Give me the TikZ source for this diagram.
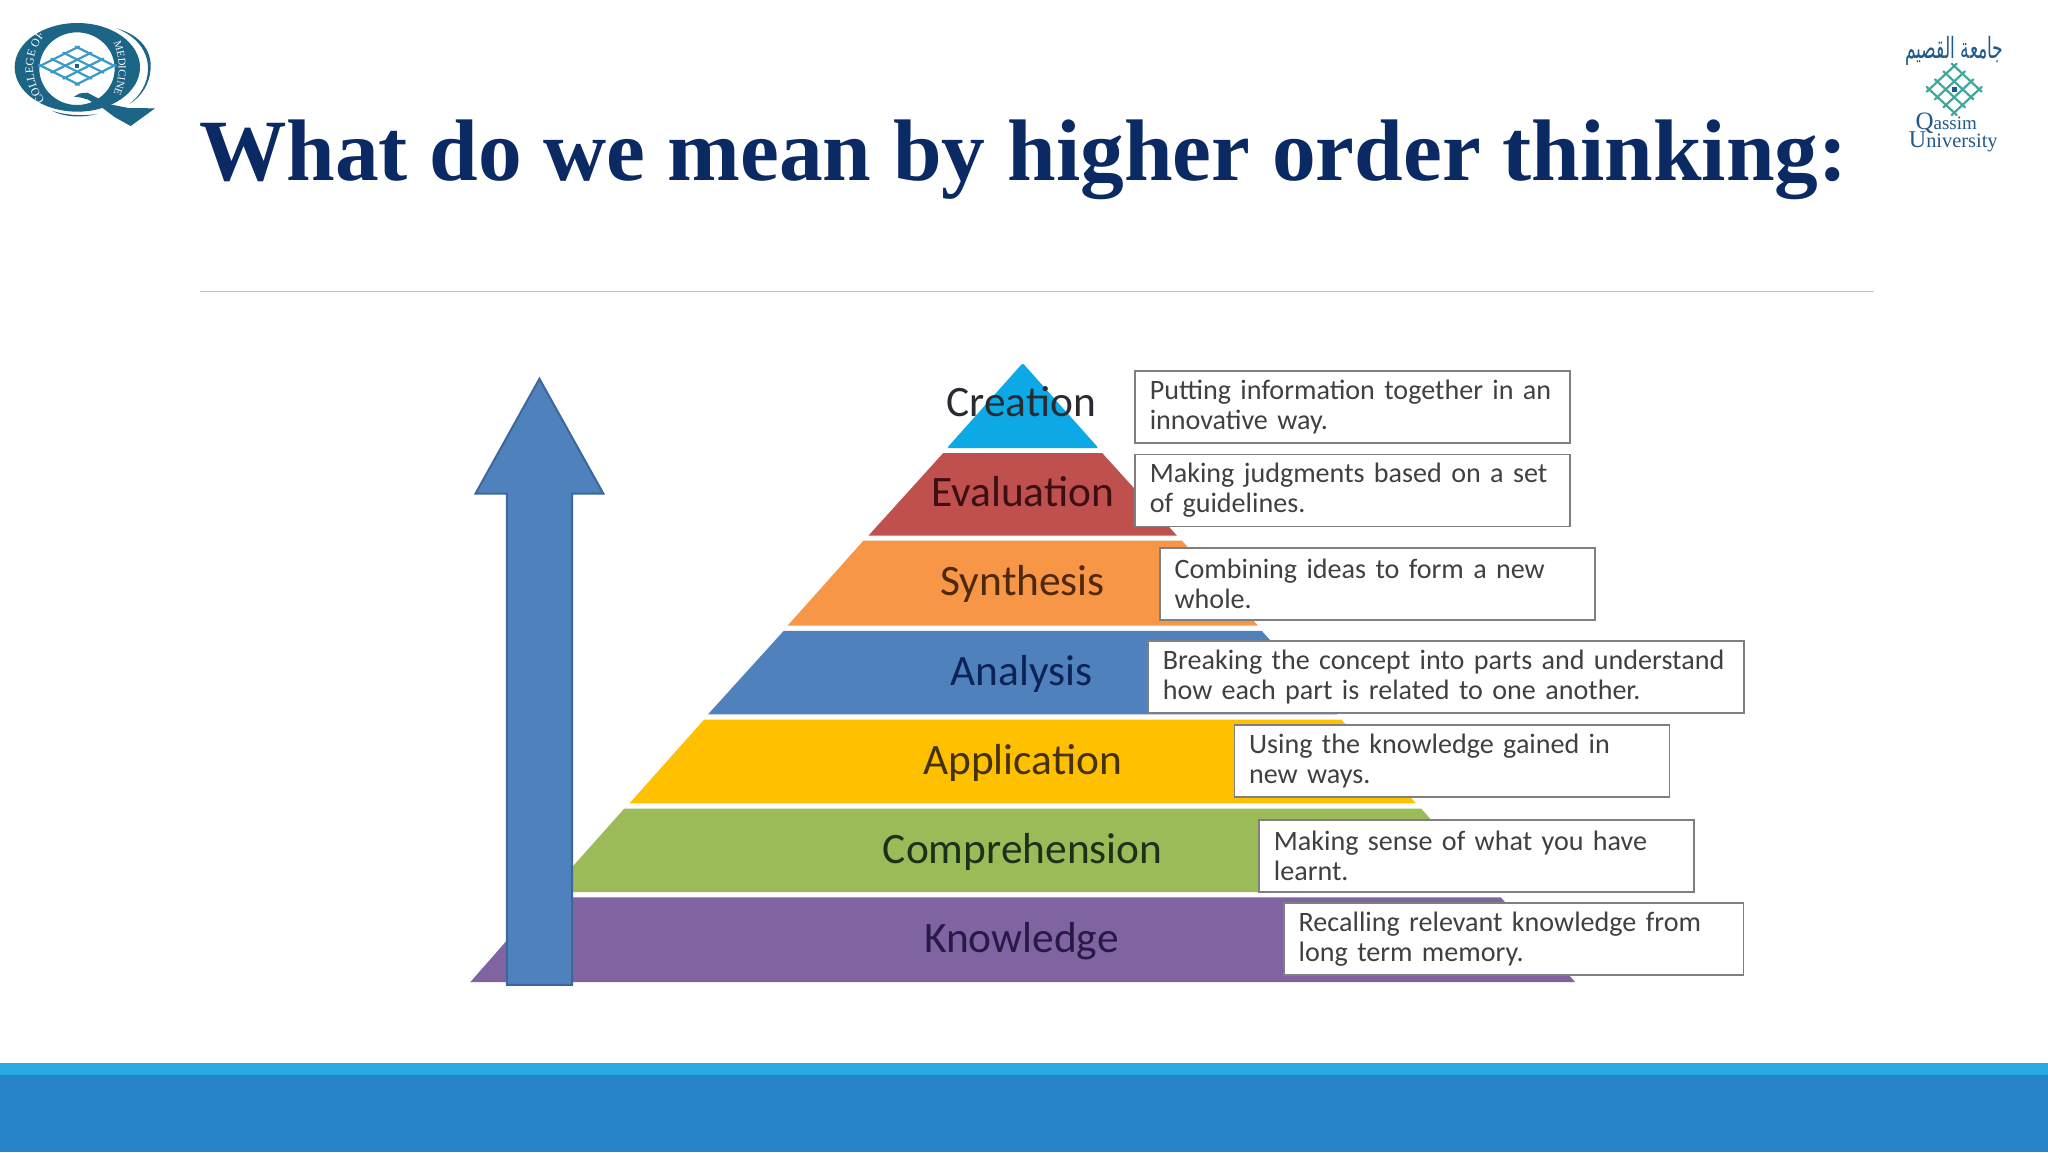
\documentclass[tikz,border=0pt]{standalone}
\usepackage{fontspec}
\usetikzlibrary{decorations.text}
\setmainfont{Liberation Serif}
\newfontfamily\calibrifont{Carlito}
\newfontfamily\serifbold{Liberation Serif}[BoldFont={Liberation Serif Bold}]
\newfontfamily\arabicfont[Script=Arabic]{DejaVu Sans}
\TeXXeTstate=1
\definecolor{navytitle}{HTML}{0B2A63}
\definecolor{rulegray}{HTML}{BFBFBF}
\definecolor{barlight}{HTML}{29ABE2}
\definecolor{bardark}{HTML}{2683C6}
\definecolor{boxedge}{HTML}{7F7F7F}
\definecolor{desctext}{HTML}{404040}
\definecolor{arrowfill}{HTML}{4F81BD}
\definecolor{arrowedge}{HTML}{3A679C}
\definecolor{logoq}{HTML}{1D6586}
\definecolor{logoblue}{HTML}{3C9AC8}
\definecolor{logogreen}{HTML}{3FA89B}
\definecolor{logonavy}{HTML}{1F5A8C}
\tikzset{
  layer/.style={draw=none},
  levellabel/.style={font=\calibrifont\fontsize{21.7}{25}\selectfont,anchor=base,inner sep=0pt},
  descbox/.style={draw=boxedge,line width=0.8pt,fill=white,inner xsep=7.3pt,inner ysep=0pt,
    minimum height=36pt,text width=#1,align=left,text=desctext,
    font=\calibrifont\fontsize{14.05}{15}\selectfont,anchor=west},
  logostroke/.style={line width=1.1pt,line cap=round}
}
\begin{document}
\begin{tikzpicture}[x=0.65306pt,y=-0.65306pt]
\useasboundingbox (0,0) rectangle (1568,882);
\fill[white] (0,0) rectangle (1568,882);
% bottom bars
\fill[bardark] (0,823) rectangle (1568,882);
\fill[barlight] (0,814) rectangle (1568,823);
% title and rule
\node[anchor=base,inner sep=0pt,text=navytitle,font=\serifbold\bfseries\fontsize{43.7}{52}\selectfont] (title) at (783.5,138.5) {What do we mean by higher order thinking:};
\coordinate (ruleL) at (153,223);
\coordinate (ruleR) at (1435,223);
\draw[rulegray,line width=0.7pt] (ruleL) -- (ruleR);
% pyramid
\fill[layer,fill={rgb,255:red,13;green,169;blue,230},rounded corners=1pt] (783,278) -- (841,343) -- (725,343) -- cycle;
\fill[layer,fill={rgb,255:red,192;green,80;blue,77}] (722,347) -- (844,347) -- (901,410) -- (665,410) -- cycle;
\fill[layer,fill={rgb,255:red,247;green,150;blue,70}] (661,414) -- (905,414) -- (963,479) -- (603,479) -- cycle;
\fill[layer,fill={rgb,255:red,79;green,129;blue,189}] (600,483) -- (966,483) -- (1024,547) -- (542,547) -- cycle;
\fill[layer,fill={rgb,255:red,255;green,192;blue,0}] (539,551) -- (1027,551) -- (1084,615) -- (482,615) -- cycle;
\fill[layer,fill={rgb,255:red,155;green,187;blue,89}] (478,619) -- (1088,619) -- (1145,683) -- (421,683) -- cycle;
\fill[layer,fill={rgb,255:red,128;green,100;blue,162}] (417,687) -- (1149,687) -- (1206,752) -- (360,752) -- cycle;
% labels
\node[levellabel,text={rgb,255:red,40;green,44;blue,50}] (creation) at (782,319) {Creation};
\node[levellabel,text={rgb,255:red,60;green,15;blue,20}] (evaluation) at (783,388) {Evaluation};
\node[levellabel,text={rgb,255:red,80;green,40;blue,10}] (synthesis) at (783,456) {Synthesis};
\node[levellabel,text={rgb,255:red,12;green,35;blue,85}] (analysis) at (782,525) {Analysis};
\node[levellabel,text={rgb,255:red,70;green,50;blue,10}] (application) at (783,593) {Application};
\node[levellabel,text={rgb,255:red,25;green,50;blue,25}] (comprehension) at (783,661) {Comprehension};
\node[levellabel,text={rgb,255:red,40;green,25;blue,70}] (knowledge) at (782,729) {Knowledge};
% boxes
\node[descbox=202.9pt] (b1) at (868.5,311.5) {\mbox{Putting information together in an}\\innovative way.};
\node[descbox=202.9pt] (b2) at (868.5,375.5) {Making judgments based on a set\\of guidelines.};
\node[descbox=202.9pt] (b3) at (887.5,447) {Combining ideas to form a new\\whole.};
\node[descbox=283.2pt] (b4) at (878.5,518.5) {\mbox{Breaking the concept into parts and understand}\\how each part is related to one another.};
\node[descbox=202.9pt] (b5) at (944.5,582.5) {Using the knowledge gained in\\new ways.};
\node[descbox=202.9pt] (b6) at (963.5,655.5) {Making sense of what you have\\learnt.};
\node[descbox=215.2pt] (b7) at (982.5,719) {Recalling relevant knowledge from\\long term memory.};
% big arrow
\draw[fill=arrowfill,draw=arrowedge,line width=1pt,line join=miter]
  (413,290) -- (462,378) -- (438,378) -- (438,754) -- (388,754) -- (388,378) -- (364,378) -- cycle;
% left logo (coordinates of 3x crop)
\begin{scope}[x=0.16667pt,y=-0.16667pt]
  \fill[logoq,even odd rule] (232,202) ellipse [x radius=188,y radius=133]
        (231,206) ellipse [x radius=113,y radius=109];
  \fill[logoq] (350,85) .. controls (420,105) and (455,150) .. (452,205)
     .. controls (450,250) and (425,290) .. (388,312)
     .. controls (422,285) and (444,250) .. (444,205)
     .. controls (444,155) and (412,110) .. (350,85) -- cycle;
  \fill[logoq] (155,332) .. controls (190,350) and (240,355) .. (292,342)
     .. controls (240,349) and (195,345) .. (155,332) -- cycle;
  \fill[logoq] (222,290) -- (240,280) -- (262,278) -- (285,290) -- (325,312) -- (385,324) -- (465,325)
     -- (392,378) -- (345,352) -- (305,322) -- (262,298) -- (240,292) -- cycle;
  \foreach \t in {-55,-18,18,55}{
    \draw[logoblue,logostroke] ({232+\t-60},{197-0.5*\t-30}) -- ({232+\t+60},{197-0.5*\t+30});
    \draw[logoblue,logostroke] ({232+\t-60},{197+0.5*\t+30}) -- ({232+\t+60},{197+0.5*\t-30});
  }
  \fill[logoq] (226,191) rectangle (238,203);
  \path[decorate,decoration={text along path,text align=center,
     text={|\color{white}\fontsize{5.8}{7}\selectfont|COLLEGE OF}}]
     (150,320) .. controls (83,250) and (83,150) .. (150,90);
  \path[decorate,decoration={text along path,text align=center,
     text={|\color{white}\fontsize{5.4}{7}\selectfont|MEDICINE}}]
     (320,95) .. controls (368,150) and (368,260) .. (320,315);
\end{scope}
% right logo
\begin{scope}[shift={(1424.2,7.66)},x=0.16667pt,y=-0.16667pt]
  \node[inner sep=0pt,text=logonavy,font=\arabicfont\fontsize{8.6}{11}\selectfont] (arname) at (282,122) {\scalebox{1}[1.7]{\beginR جامعة القصيم\endR}};
  \foreach \t in {-50,-17,17,50}{
    \draw[logogreen,logostroke] ({282+\t*0.75-45},{238-0.7*\t-42}) -- ({282+\t*0.75+45},{238-0.7*\t+42});
    \draw[logogreen,logostroke] ({282+\t*0.75-45},{238+0.7*\t+42}) -- ({282+\t*0.75+45},{238+0.7*\t-42});
  }
  \fill[logonavy] (275,231) rectangle (289,245);
  \node[inner sep=0pt,anchor=base west,text=logonavy,font=\fontsize{12.5}{14}\selectfont] (qassim) at (165,358) {Q\fontsize{9.5}{10}\selectfont assim};
  \node[inner sep=0pt,anchor=base west,text=logonavy,font=\fontsize{12}{14}\selectfont] (university) at (145,413) {U\fontsize{10.2}{10}\selectfont niversity};
\end{scope}
\end{tikzpicture}
\end{document}
